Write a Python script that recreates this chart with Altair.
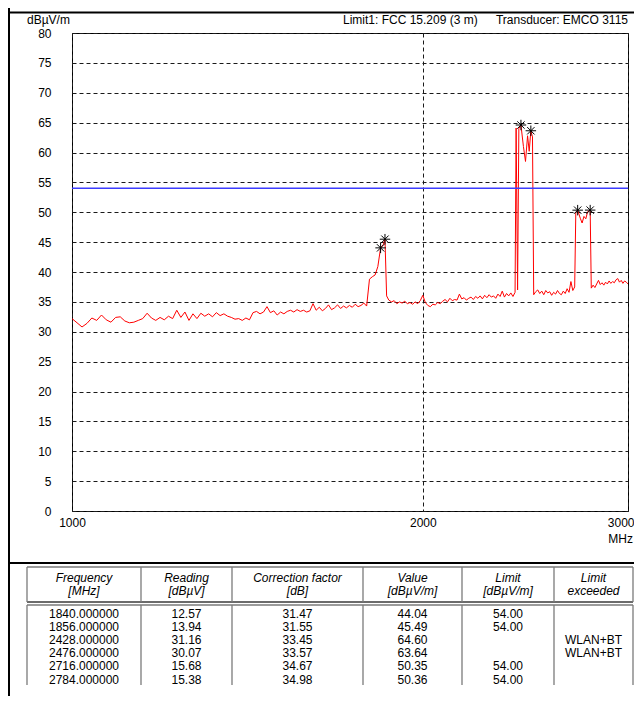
import altair as alt
import pandas as pd

# ---------------- data ----------------
FREQ_MHZ = [
    1000, 1010, 1020, 1030, 1040, 1050, 1060, 1070, 1080, 1090,
    1100, 1110, 1120, 1130, 1140, 1150, 1160, 1170, 1180, 1190,
    1200, 1210, 1220, 1230, 1240, 1250, 1260, 1270, 1280, 1290,
    1300, 1310, 1320, 1330, 1340, 1350, 1360, 1370, 1380, 1390,
    1400, 1410, 1420, 1430, 1440, 1450, 1460, 1470, 1480, 1490,
    1500, 1510, 1520, 1530, 1540, 1550, 1560, 1570, 1580, 1590,
    1600, 1610, 1620, 1630, 1640, 1650, 1660, 1670, 1680, 1690,
    1700, 1710, 1720, 1730, 1740, 1750, 1760, 1770, 1780, 1790,
    1800, 1810, 1820, 1830, 1840, 1850, 1856, 1862, 1870, 1880, 1890,
    1900, 1910, 1920, 1930, 1940, 1950, 1960, 1970, 1980, 1990,
    2000, 2010, 2020, 2030, 2040, 2050, 2060, 2070, 2080, 2090,
    2100, 2110, 2120, 2130, 2140, 2150, 2160, 2170, 2180, 2190,
    2200, 2210, 2220, 2230, 2240, 2250, 2260, 2270, 2280, 2290,
    2300, 2310, 2320, 2330, 2340, 2350, 2360, 2370, 2380, 2390,
    2400, 2405, 2412, 2418, 2428, 2440, 2450, 2460, 2468, 2476, 2484, 2490,
    2500, 2510, 2520, 2530, 2540, 2550, 2560, 2570, 2580, 2590,
    2600, 2610, 2620, 2630, 2640, 2650, 2660, 2670, 2680, 2690,
    2700, 2706, 2716, 2730, 2740, 2750, 2760, 2770, 2784, 2790,
    2800, 2810, 2820, 2830, 2840, 2850, 2860, 2870, 2880, 2890,
    2900, 2910, 2920, 2930, 2940, 2950, 2960, 2970, 2980, 2990,
    3000,
]
LEVEL_DBUV_M = [
    32.2, 31.5, 30.8, 31.4, 32.3, 31.9, 32.8, 32.0, 31.6, 32.4,
    32.5, 31.8, 31.5, 31.6, 31.9, 32.2, 33.1, 32.3, 31.9, 32.4,
    32.0, 32.6, 32.2, 33.6, 32.4, 33.3, 31.9, 33.0, 32.2, 33.1,
    32.6, 33.0, 32.5, 33.2, 32.7, 33.0, 32.6, 32.4, 32.1, 32.2,
    31.9, 32.3, 32.0, 33.2, 33.4, 33.0, 33.3, 34.2, 33.2, 33.5,
    32.8, 33.3, 33.0, 33.4, 33.6, 33.3, 33.7, 33.4, 33.6, 33.3,
    33.5, 34.7, 33.6, 34.1, 33.5, 33.9, 34.5, 33.7, 34.0, 34.5,
    33.9, 34.3, 34.0, 34.4, 34.1, 34.6, 34.2, 34.4, 34.8, 34.3,
    38.8, 39.2, 39.5, 40.9, 44.04, 44.6, 45.49, 36.0, 35.3, 35.0, 35.2,
    34.7, 35.0, 34.8, 35.1, 34.7, 34.9, 34.6, 35.0, 34.7, 35.2,
    36.1, 34.9, 34.4, 34.2, 34.6, 34.5, 34.9, 34.7, 35.1, 35.4,
    35.0, 35.6, 35.2, 35.4, 35.3, 36.3, 35.5, 35.7, 35.3, 35.6,
    35.8, 35.4, 35.9, 35.6, 36.0, 35.5, 36.1, 35.7, 36.2, 35.8,
    36.0, 35.6, 36.3, 35.9, 36.8, 35.8, 36.4, 36.0, 36.5, 35.9,
    36.6, 64.1, 37.0, 64.0, 64.60, 61.0, 58.5, 62.8, 60.2, 63.64, 62.6, 36.2,
    36.7, 37.0, 36.4, 36.8, 36.2, 36.9, 36.5, 36.7, 36.1, 36.6,
    36.3, 36.9, 36.4, 36.2, 36.8, 36.4, 37.2, 36.6, 38.4, 36.9,
    37.5, 50.0, 50.35, 49.0, 48.2, 49.3, 48.9, 50.1, 50.36, 37.3,
    37.8, 37.4, 38.0, 38.6, 37.9, 38.2, 37.8, 38.3, 38.0, 38.5,
    38.1, 38.4, 38.2, 38.7, 38.9, 38.3, 38.6, 38.1, 38.5, 38.3,
    38.0,
]

LIMIT_DBUV_M = 54.0

PEAK_FREQ = [1840.0, 1856.0, 2428.0, 2476.0, 2716.0, 2784.0]
PEAK_READING = [12.57, 13.94, 31.16, 30.07, 15.68, 15.38]
PEAK_CORR = [31.47, 31.55, 33.45, 33.57, 34.67, 34.98]
PEAK_VALUE = [44.04, 45.49, 64.60, 63.64, 50.35, 50.36]
PEAK_LIMIT = [54.00, 54.00, None, None, 54.00, 54.00]
PEAK_EXCEEDED = ["", "", "WLAN+BT", "WLAN+BT", "", ""]

TABLE_HEADERS = [
    "Frequency\n[MHz]", "Reading\n[dBµV]", "Correction factor\n[dB]",
    "Value\n[dBµV/m]", "Limit\n[dBµV/m]", "Limit\nexceeded",
]

Y_TICKS = [0, 5, 10, 15, 20, 25, 30, 35, 40, 45, 50, 55, 60, 65, 70, 75, 80]
X_TICKS = [1000, 2000, 3000]

TITLE_LEFT = ["dBµV/m", "Limit1: FCC 15.209 (3 m)"]
TITLE_RIGHT = ["Transducer: EMCO 3115", "MHz"]

# ---------------- layout (pixels, relative to plot origin) ----------------
FONT = "Liberation Sans"
PLOT_W, PLOT_H = 556, 478
PAD = {"left": 64, "top": 25, "right": 6, "bottom": 185}
RIGHT_EDGE = PLOT_W + PAD["right"] - 1
COL_EDGES = [-45, 69, 160, 291, 390, 482, RIGHT_EDGE]
COL_CENTERS = [(a + b) / 2 for a, b in zip(COL_EDGES[:-1], COL_EDGES[1:])]
HEAD_TOP, HEAD_BOT, BODY_TOP, BODY_BOT = 534, 569, 572, 652
HEAD_TEXT_Y = 544.5
ROW_Y0, ROW_STEP = 580.5, 13.2

# pixel (identity) scales for the page furniture
PX = alt.Scale(domain=[0, PLOT_W], range=[0, PLOT_W], nice=False, zero=False)
PY = alt.Scale(domain=[0, PLOT_H], range=[0, PLOT_H], nice=False, zero=False)

# ---------------- chart ----------------
x_scale = alt.Scale(type="log", domain=[1000, 3000], nice=False)
y_scale = alt.Scale(domain=[0, 80], nice=False, zero=False)

grid_kw = dict(grid=True, gridDash=[4, 3], gridColor="#1a1a1a", gridWidth=1,
               ticks=False, domain=False, title=None,
               labelFont=FONT, labelFontSize=12, labelColor="black")
x_axis = alt.Axis(
    values=X_TICKS, format="d", labelPadding=6, labelFlush=False, labelAngle=0,
    orient="bottom",
    labelAlign={"condition": {"test": "datum.value >= 3000", "value": "right"},
                "value": "center"},
    labelOffset={"condition": {"test": "datum.value >= 3000", "value": 6},
                 "value": 0},
    **grid_kw,
)
y_axis = alt.Axis(values=Y_TICKS, labelPadding=21, orient="left", **grid_kw)

trace_df = pd.DataFrame({"freq": FREQ_MHZ, "level": LEVEL_DBUV_M})
trace = alt.Chart(trace_df).mark_line(color="#ff0000", strokeWidth=1).encode(
    x=alt.X("freq:Q", scale=x_scale, axis=x_axis),
    y=alt.Y("level:Q", scale=y_scale, axis=y_axis),
)

limit = alt.Chart(pd.DataFrame({"limit": [LIMIT_DBUV_M]})).mark_rule(
    color="#3c3cff", strokeWidth=1.5
).encode(y=alt.Y("limit:Q", scale=y_scale, axis=None))

STAR = "M-1,0L1,0M0,-1L0,1M-0.7,-0.7L0.7,0.7M-0.7,0.7L0.7,-0.7"
peaks_df = pd.DataFrame({"freq": PEAK_FREQ, "value": PEAK_VALUE})
peaks = alt.Chart(peaks_df).mark_point(
    shape=STAR, size=110, filled=False, color="black", strokeWidth=1, opacity=1
).encode(
    x=alt.X("freq:Q", scale=x_scale, axis=None),
    y=alt.Y("value:Q", scale=y_scale, axis=None),
)


def pos(fx, fy):
    return dict(x=alt.X(f"{fx}:Q", scale=PX, axis=None),
                y=alt.Y(f"{fy}:Q", scale=PY, axis=None))


txt_kw = dict(font=FONT, fontSize=12, color="black", baseline="middle")

# titles around the plot
lbl_left = pd.DataFrame({"t": TITLE_LEFT, "px": [-45, 271], "py": [-13, -13]})
lbl_right = pd.DataFrame({"t": TITLE_RIGHT, "px": [556, RIGHT_EDGE], "py": [-13, 506]})
left_text = alt.Chart(lbl_left).mark_text(align="left", **txt_kw).encode(
    text="t:N", **pos("px", "py"))
right_text = alt.Chart(lbl_right).mark_text(align="right", **txt_kw).encode(
    text="t:N", **pos("px", "py"))

# table
head_df = pd.DataFrame({"t": TABLE_HEADERS, "px": COL_CENTERS,
                        "py": [HEAD_TEXT_Y] * len(TABLE_HEADERS)})
head_text = alt.Chart(head_df).mark_text(
    align="center", lineBreak="\n", lineHeight=13, fontStyle="italic", **txt_kw
).encode(text="t:N", **pos("px", "py"))

cells = []
for i in range(len(PEAK_FREQ)):
    row = [
        f"{PEAK_FREQ[i]:.6f}", f"{PEAK_READING[i]:.2f}", f"{PEAK_CORR[i]:.2f}",
        f"{PEAK_VALUE[i]:.2f}",
        "" if PEAK_LIMIT[i] is None else f"{PEAK_LIMIT[i]:.2f}",
        PEAK_EXCEEDED[i],
    ]
    for j, t in enumerate(row):
        if t:
            cells.append({"t": t, "px": COL_CENTERS[j], "py": ROW_Y0 + i * ROW_STEP})
cell_text = alt.Chart(pd.DataFrame(cells)).mark_text(align="center", **txt_kw).encode(
    text="t:N", **pos("px", "py"))

# frame and table lines
lines = [
    dict(x=-63, x2=-63, y=-25, y2=663, c="black", w=2),
    dict(x=-63, x2=RIGHT_EDGE + 1, y=-20.5, y2=-20.5, c="black", w=2),
    dict(x=-63, x2=RIGHT_EDGE + 1, y=530, y2=530, c="black", w=2),
    dict(x=COL_EDGES[0], x2=COL_EDGES[-1], y=HEAD_TOP, y2=HEAD_TOP, c="#7a7a7a", w=1.3),
    dict(x=COL_EDGES[0], x2=COL_EDGES[-1], y=HEAD_BOT, y2=HEAD_BOT, c="#3a3a3a", w=1.3),
    dict(x=COL_EDGES[0], x2=COL_EDGES[-1], y=BODY_TOP, y2=BODY_TOP, c="#7a7a7a", w=1.3),
]
for e in COL_EDGES:
    lines.append(dict(x=e, x2=e, y=HEAD_TOP, y2=HEAD_BOT, c="#7a7a7a", w=1.3))
    lines.append(dict(x=e, x2=e, y=BODY_TOP, y2=BODY_BOT, c="#7a7a7a", w=1.3))
rules = alt.Chart(pd.DataFrame(lines)).mark_rule().encode(
    x2="x2:Q", y2="y2:Q",
    color=alt.Color("c:N", scale=None),
    strokeWidth=alt.StrokeWidth("w:Q", scale=None),
    **pos("x", "y"),
)

chart = alt.layer(
    trace, limit, peaks, left_text, right_text, rules, head_text, cell_text
).resolve_scale(
    x="independent", y="independent"
).resolve_axis(
    x="independent", y="independent"
).properties(
    width=PLOT_W, height=PLOT_H,
    autosize=alt.AutoSizeParams(type="none"),
    padding=PAD,
    background="white",
).configure_view(stroke="black", strokeWidth=1)

chart.save("out.html", embed_options={"renderer": "svg", "actions": False})
